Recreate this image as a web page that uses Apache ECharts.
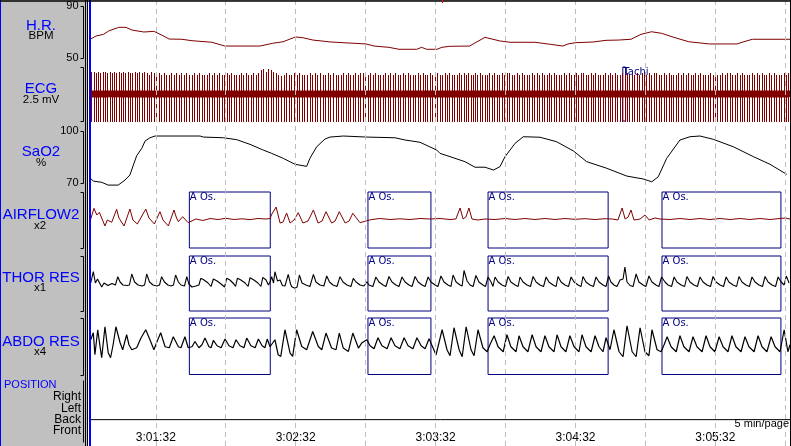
<!DOCTYPE html>
<html><head><meta charset="utf-8">
<script src="https://cdn.jsdelivr.net/npm/echarts@6/dist/echarts.min.js"></script>
<style>html,body{margin:0;padding:0;background:#fff}#c{width:791px;height:446px}</style>
</head><body><div id="c"></div>
<script>
// ---------------- DATA (seconds from page start 3:01:04) ----------------
const pageSec = 300;
const gridSec = [28, 58, 88, 118, 148, 178, 208, 238, 268, 298];
const timeLabelSec = [28, 88, 148, 208, 268];
const timeLabels = ['3:01:32', '3:02:32', '3:03:32', '3:04:32', '3:05:32'];

const hrSec = [0,2.4,5.6,7.8,12.1,15.2,17.8,22.9,27.2,30.5,33.7,39.2,43.5,52.1,57.6,72.7,78.1,82.6,87.9,91.1,95.4,103.1,118.2,121.6,128.0,132.3,139.9,142.0,144.2,148.6,150.7,154.0,162.6,165.8,169.2,172.2,175.6,179.9,190.6,197.3,202.6,204.8,208.2,215.5,221.1,226.5,231.8,236.1,240.6,244.9,250.2,256.6,265.5,277.3,280.7,283.9,300];
const hrBpm = [64.6,66.9,68.2,70.8,73.6,73.6,71.5,70.0,70.5,67.7,64.6,64.4,63.3,62.1,59.2,59.2,61.3,62.5,66.2,65.6,63.8,62.3,60.8,59.2,58.2,56.7,56.7,58.2,56.7,56.7,58.2,59.0,59.2,62.5,65.9,64.6,63.1,62.1,62.1,60.5,59.2,60.8,61.8,62.3,63.6,63.8,64.4,68.2,70.2,69.0,65.9,62.5,60.8,60.8,62.8,64.4,64.4];

const sao2Sec = [0,1.2,4.8,7.6,11.9,14.8,16.9,18.4,19.8,22.0,23.4,25.5,27.7,47.0,48.4,57.0,62.7,68.4,74.1,77.7,82.7,87.7,92.7,94.1,97.0,100.6,102.7,108.4,118.5,130.6,134.9,141.3,148.5,149.9,154.2,160.6,164.9,169.2,172.8,175.6,177.8,182.1,185.6,192.8,199.9,207.1,212.8,221.4,230.0,237.1,240.7,243.5,247.1,252.8,257.1,261.4,267.1,275.7,284.3,291.4,298.6];
const sao2Pct = [72.7,71.1,70.4,68.8,68.8,71.7,74.6,80.4,85.7,90.0,94.2,96.1,97.1,97.1,96.5,96.1,95.0,92.3,89.0,87.1,84.2,80.8,79.6,84.2,90.9,95.4,96.5,97.1,96.5,96.1,94.8,93.5,89.0,87.1,85.2,82.3,79.1,79.1,77.5,79.4,85.2,92.9,96.7,96.4,93.8,88.5,82.3,78.5,74.0,72.3,70.7,73.6,84.2,94.8,96.7,97.1,95.2,90.9,85.2,80.8,75.0];

// ECG: spike-to-spike intervals (centiseconds) and spike top level codes
const ecgFirstBeatSec = 0.3;
const ecgRRcs = [
100,100,99,99,98,98,98,97,97,97, 97,97,97,98,98,98,99,99,100,100, 101,102,103,104,104,105,105,106,106,106,
107,107,107,108,108,108,108,108,108,109, 109,109,109,109,109,109,109,109,108,108, 108,107,106,105,104,103,102,102,102,103,
104,104,105,105,106,106,106,107,107,107, 107,108,108,108,109,109,110,110,110,111, 111,111,111,112,112,112,112,112,112,112,
112,112,112,112,112,111,111,110,110,109, 108,107,106,104,103,103,104,105,106,106, 107,107,107,107,107,107,107,107,107,108,
108,108,108,108,108,108,107,107,107,106, 106,106,106,106,105,105,105,105,105,105, 104,104,104,103,103,103,102,102,101,101,
100,100,99,99,99,100,100,101,101,102, 103,104,105,106,106,107,107,107,107,107, 107,107,107,107,107,107,107,107,107,107,
106,106,106,106,106,105,105,105,105,105, 105,105,105,105,105,105,105,105,105,105, 105,105,104,104,104,104,104,104,104,104,
104,104,104,104,104,104,104,104,104,104, 104,104,105,105,105,105,105,105,105,105, 105,105,105,105,105,105,105,105,105,105,
105,105,105,105,105,105,105,105,105,105, 105,105,105,105,105,105,105,105,105,105, 105,105,105,105,105,105,105,105,105,105,
105,105,105,105,105,105,105,105,105,105, 105,105,105,105,105,105,105,105,105,105, 105,105,105,105,105,105,105,105,105,105];
const ecgTopCode =
"7767677676"+"7676767667"+"6767657676"+"5655656565"+"6556565556"+"5656556565"+
"5565655656"+"8979876545"+"6556565556"+"5656556565"+"5565655656"+"6556565556"+
"5656556565"+"5565655656"+"6556565556"+"5656556565"+"5565655656"+"6556565556"+
"5656556565"+"5565655656"+"6556565556"+"5656556565"+"5565655656"+"6556565556"+
"5656556565"+"5565655656"+"6556565556"+"5656556565"+"5565655656"+"6556565556";
const ecgTopLevelsMv = [0.55,0.62,0.69,0.76,0.83,0.90,0.97,1.04,1.11,1.18];
const ecgBottomMv = -1.30;
const ecgBaseMv = -0.04;
const ecgQdipMv = -0.14;
const ecgTwaveMv = 0.16;

// respiratory channels: [sec, value] (value in display units, 0 = channel centre, up positive)
const airflow = [[0.1,1],[1.5,11.7],[2.7,5],[3.8,7.7],[6.2,-6],[7.2,0],[9.1,-2.3],[11.2,10.7],[12.2,2],[14.4,-6],[16.9,11],[18.2,0],[20.1,-4],[23.7,11],[25.1,2],[27.4,-4],[29.8,8.3],[31.1,0],[33.4,-6],[35.8,10],[36.9,2],[37.7,-1.7],[39.5,3.3],[41.9,-2.7],[42.7,-1.7],[45.2,1],[48.2,-0.5],[51.3,1.5],[54.7,0.5],[58.1,1.7],[61.5,0.5],[65.0,1.2],[68.4,0.4],[71.8,1.5],[75.3,1],[77.0,1.5],[77.8,6],[79.6,13],[81.3,-3],[82.6,-2],[84.1,7],[85.6,-3],[87.3,0],[89.1,7.3],[91.1,-3],[93.3,-1],[95.6,10],[97.6,-3],[99.3,-1],[101.0,8.3],[103.4,-3],[104.9,-1],[106.7,8.3],[109.2,-3],[110.9,-1],[112.5,6.7],[115.6,-2.7],[118.5,-0.7],[120.7,0.5],[124.2,1.5],[128.5,0.5],[132.7,1.2],[137.0,0.5],[141.3,1.5],[145.6,1],[149.9,1.5],[154.2,0.5],[156.7,1],[158.5,12],[159.8,1],[161.0,3],[162.3,12],[163.6,1],[166.2,0],[169.2,1],[173.5,0.5],[177.8,1.5],[182.1,0.5],[186.3,1.5],[190.6,0.5],[194.9,1.5],[199.2,0.5],[203.5,1.5],[207.8,0.7],[212.1,1.3],[216.4,0.5],[220.7,1.3],[223.7,1],[226.2,0],[228.0,12],[229.3,1],[230.6,3],[231.8,10],[233.1,0],[235.7,1],[237.8,5],[239.6,0],[242.1,2],[244.2,1],[248.5,0.5],[252.8,1.5],[257.1,0.5],[261.4,1.5],[265.7,0.5],[270.0,1.5],[274.3,0.5],[278.6,1.5],[282.8,0.5],[287.1,1.5],[291.4,0.5],[295.7,1.5],[297.9,2],[300,1]];

const thor = [[0.1,0.5],[1.2,11.8],[2.1,0.5],[3.0,4.5],[3.8,6.5],[4.8,-3.5],[5.8,0.5],[7.5,-2],[9.2,0],[10.7,-1.5],[11.7,6.8],[12.7,1.5],[13.9,-1.5],[15.7,-2],[16.7,-1.5],[17.7,9.5],[18.9,1.5],[20.4,-1.5],[22.1,-2.5],[23.2,-1.5],[24.1,9.5],[25.3,1.5],[26.8,-1.5],[28.5,-2.5],[29.6,-1.5],[30.5,6.8],[31.7,1.5],[33.2,-1.5],[34.5,-2.5],[35.6,-1.5],[36.5,8.5],[37.7,1.5],[38.8,-1.5],[40.3,-2.5],[41.3,6.8],[42.2,-0.5],
[43.5,-3.5],[45.2,-2.5],[46.5,-1.5],[47.3,5.2],[48.7,3.5],[50.4,0.5],[51.7,-3],[52.7,4.5],[54.3,2.5],[56.0,-0.5],[57.5,-3.5],[58.4,5.2],[59.8,3.5],[61.5,-0.5],[62.2,-3],[63.0,5.2],[64.5,3.5],[66.3,0.5],[67.6,-3],[68.4,5.8],[70.1,3.5],[71.8,0.5],[73.1,-3],[73.9,6.2],[75.3,3.5],[76.3,-1.5],[77.0,1.5],
[77.7,6.8],[78.5,0.5],[79.1,11.8],[80.2,2.5],[81.3,3.5],[82.3,-2],[83.4,-2.5],[84.8,9.2],[85.8,-0.5],[86.3,-3.2],[87.7,-4.8],[88.6,-3.5],[89.6,8.5],[90.7,0.5],[92.4,-1.5],[94.1,-3],[95.6,9.2],[96.7,1.5],[98.4,-1.5],[100.1,-2.5],[101.3,7.5],[102.5,1.5],[104.0,-1.5],[105.7,-3],[107.0,6.8],[108.3,1.5],[110.0,-1.5],[111.7,-3],[112.7,5.2],[113.9,1.5],[115.6,-1.5],[117.3,-2.5],[118.5,1.8],
[119.4,-1.5],[121.1,-3],[122.4,6.5],[123.7,1.5],[125.5,-1.5],[126.7,-3],[128.0,7],[129.3,1.5],[131.0,-1.5],[132.3,-3],[133.6,6.5],[134.9,1.5],[136.6,-1.5],[137.9,-3],[139.2,7],[140.5,1.5],[142.2,-1.5],[143.5,-3],[144.8,6.5],[146.0,1.5],
[147.8,-1.5],[149.0,-3],[150.3,7.5],[151.6,1.5],[153.3,-1.5],[154.6,-3],[155.5,8.5],[156.8,1.5],[158.5,-1.5],[159.4,-2.5],[160.2,13],[161.5,2.5],[162.8,-1.5],[164.1,-3],[165.3,8],[166.6,1.5],[168.3,-1.5],[169.4,-3],[170.5,6.5],
[171.8,1.5],[172.6,-3],[173.5,6.5],[174.8,1.5],[176.5,-1.5],[178.0,-3],[179.1,7],[180.3,1.5],[182.1,-1.5],[183.4,-3],[184.2,6.5],[185.5,1.5],[187.2,-1.5],[188.7,-3],[189.8,7],[191.1,1.5],[192.8,-1.5],[194.3,-3],[195.4,6.5],[196.6,1.5],[198.4,-1.5],[199.7,-3],[200.5,7],[201.8,1.5],[203.5,-1.5],[205.0,-3],[206.1,6.5],[207.4,1.5],[209.1,-1.5],[210.4,-3],[211.2,7],[212.5,1.5],[214.2,-1.5],[215.7,-3],[216.8,6.5],[218.1,1.5],[219.8,-1.5],[221.1,-3],
[222.2,7.5],[223.2,1.5],[224.5,-1.5],[225.8,-3],[227.1,3.5],[228.4,4.5],[229.2,16.5],[230.1,1.5],[231.4,-2],[232.7,-3],[234.0,9.5],[235.2,1.5],[237.0,-1.5],[238.2,-3],[239.5,7.5],[240.8,1.5],[242.5,-1.5],[243.8,-3],[244.9,6.5],
[246.4,1.5],[247.7,-1.5],[249.2,-3],[250.3,6.5],[251.5,1.5],[253.3,-1.5],[254.8,-3],[255.8,7],[257.1,1.5],[258.8,-1.5],[260.3,-3],[261.4,6.5],[262.7,1.5],[264.4,-1.5],[265.9,-3],[267.0,7],[268.3,1.5],[270.0,-1.5],[271.5,-3],[272.6,6.5],[273.8,1.5],[275.6,-1.5],[277.1,-3],[278.1,7],[279.4,1.5],[281.1,-1.5],[282.6,-3],[283.7,6.5],[285.0,1.5],[286.7,-1.5],[288.2,-3],[289.3,7],[290.6,1.5],[292.3,-1.5],[293.8,-3],[294.9,6.5],[296.2,1.5],[297.5,-1.5],[298.4,7.5],[299.6,0.5]];

const abdo = [[0.1,6.5],[1.2,13.5],[1.9,-8.5],[3.1,16.5],[4.1,-0.5],[4.8,-11.5],[6.2,19.5],[7.6,-6.5],[8.6,-11.5],[9.7,1.5],[10.9,19.5],[12.7,3.5],[13.8,-3.5],[15.5,11.5],[16.5,1.5],[17.7,-3.5],[19.8,-1.5],[21.7,8.5],[23.7,16.5],[25.5,6.5],[27.2,-3.5],[28.5,4.5],[30.1,13.5],[32.0,-0.5],[33.8,-1.5],[35.5,9.5],[37.7,-0.5],[38.8,-1.5],[40.5,9.5],[41.9,-1.5],
[43.5,-0.5],[44.8,4.8],[46.5,-1.5],[47.8,1.5],[49.1,8.2],[50.8,-0.5],[51.7,-1.5],[52.7,5.8],[54.3,0.5],[56.0,-1.5],[57.7,7.2],[59.4,0.5],[61.1,-1.5],[62.4,6.5],[64.1,0.5],[65.8,-1.5],[67.0,8.2],[68.8,0.5],[70.6,-1.5],[72.0,7.2],[73.6,0.5],[74.8,-1.5],[75.8,7.2],[77.0,-0.5],
[77.7,-1.8],[79.1,6.5],[80.5,-8.5],[81.6,-10.2],[83.4,16.5],[85.6,-6.8],[86.7,-10.2],[88.4,16.5],[90.6,-0.2],[92.7,-3.5],[95.3,14.8],[97.7,-0.2],[99.2,-3.5],[101.0,13.2],[103.4,-1.8],[105.3,-3.5],[106.7,13.2],[108.4,-1.8],[110.6,-5.2],[112.5,13.2],[114.9,-1.8],[116.3,3.2],[118.5,6.5],
[119.9,0.5],[121.6,-2.5],[123.3,8.5],[125.0,0.5],[127.2,-2.5],[128.9,8.5],[130.6,0.5],[132.7,-2.5],[134.5,8.5],[136.2,0.5],[138.3,-2.5],[140.0,8.5],[141.8,0.5],[143.5,-2.5],[145.2,7.5],[146.5,0.5],
[148.2,-8.5],[150.8,16.5],[152.9,-3.5],[154.2,-9.5],[155.9,18.5],[158.1,-3.5],[159.4,-10.5],[161.1,19.5],[163.2,-3.5],[164.5,-9.5],[166.2,16.5],[168.3,-1.5],[170.1,-5.5],
[171.3,1.5],[173.1,10.5],[174.8,-0.5],[177.0,-5.5],[178.6,11.5],[180.3,-0.5],[182.5,-5.5],[183.8,10.5],[185.5,-0.5],[187.6,-5.5],[189.4,11.5],[191.1,-0.5],[193.2,-5.5],[194.9,10.5],[196.6,-0.5],[198.8,-5.5],[200.1,11.5],[201.8,-0.5],[203.9,-5.5],[205.6,10.5],[207.4,-0.5],[209.5,-5.5],[210.8,11.5],[212.5,-0.5],[214.7,-5.5],[216.4,10.5],[218.1,-0.5],[219.8,-5.5],[221.1,8.5],
[222.8,-3.5],[224.5,16.5],[226.7,-5.5],[228.4,-10.5],[230.1,20.5],[232.3,-5.5],[234.0,-10.5],[235.7,18.5],[237.8,-5.5],[239.5,-9.5],[240.8,16.5],[243.0,-3.5],[244.7,-5.5],
[246.0,1.5],[247.3,9.5],[249.0,-0.5],[251.2,-5.5],[252.8,10.5],[254.5,-0.5],[256.7,-5.5],[258.4,9.5],[260.1,-0.5],[262.3,-5.5],[264.0,10.5],[265.7,-0.5],[267.8,-5.5],[269.6,9.5],[271.3,-0.5],[273.4,-5.5],[275.1,10.5],[276.8,-0.5],[279.0,-5.5],[280.7,9.5],[282.4,-0.5],[284.6,-5.5],[286.3,10.5],[288.0,-0.5],[290.1,-5.5],[291.9,9.5],[293.6,-0.5],[295.7,-5.5],[297.5,16.5],[299.1,-5.5],[300,1.5]];

const positionNames = ['Front', 'Back', 'Left', 'Right'];
const positionSec = [0, 300];
const positionLevel = [1, 1];

const apneaSec = [[42.4, 77.1], [119.0, 146.0], [170.5, 222.0], [245.1, 296.1]];
const apneaLabel = 'A Os.';
const tachiSec = [228.3, 229.5];
const tachiLabel = 'Tachi';

// channel scale ranges [min, max]
const hrRange = [50, 90], ecgRange = [-1.25, 1.25], sao2Range = [70, 100];
const airRange = [-28, 28], thorRange = [-27.5, 27.5], abdoRange = [-28.25, 28.25], posRange = [-1, 4.5];

// ---------------- BUILD ----------------
const FONT = '"Liberation Sans", Arial, Helvetica, sans-serif';
const ecgBeats = [];      // [sec, topMv, bottomMv]
const ecgBaseline = [];   // [sec, mV]
{
  let s = ecgFirstBeatSec;
  for (let i = 0; i < ecgRRcs.length; i++) {
    if (s > pageSec - 0.4) break;
    const code = +(ecgTopCode[i] || 5);
    ecgBeats.push([s, ecgTopLevelsMv[code], ecgBottomMv]);
    ecgBaseline.push([s, ecgBaseMv], [s + 0.08, ecgQdipMv], [s + 0.3, ecgTwaveMv], [s + 0.55, ecgBaseMv]);
    s += ecgRRcs[i] / 100;
  }
}

const rows = [
  {top: 1, bottom: -3, show: true, backgroundColor: '#ffffff', borderWidth: 0},  // 0 plot background / gridlines
  {top: 6, height: 52},        // 1 H.R.
  {top: 67, height: 54},       // 2 ECG
  {top: 131, height: 52},      // 3 SaO2
  {top: 192, height: 56},      // 4 AIRFLOW2
  {top: 256, height: 55},      // 5 THOR RES
  {top: 318, height: 56.5},    // 6 ABDO RES
  {top: 380, height: 62.3},    // 7 POSITION
  {top: 2, bottom: 15}         // 8 time labels
];
const grid = rows.map(r => Object.assign({left: 90.5, right: 1, containLabel: false}, r));

const xAxis = rows.map((r, i) => ({
  type: 'value', gridIndex: i, min: 0, max: pageSec, show: i === 8,
  axisLine: {show: false}, axisTick: {show: false}, splitLine: {show: false},
  axisLabel: i === 8 ? {
    show: true, customValues: timeLabelSec, margin: 1,
    formatter: v => { const k = timeLabelSec.indexOf(Math.round(v)); return k >= 0 ? timeLabels[k] : ''; },
    fontSize: 12, color: '#000', fontFamily: FONT
  } : {show: false}
}));

function chanAxis(gi, range, showLabel) {
  return {
    type: 'value', gridIndex: gi, min: range[0], max: range[1], interval: range[1] - range[0],
    position: 'left', offset: 8,
    axisLine: {show: false}, axisTick: {show: false}, splitLine: {show: false},
    axisLabel: {show: showLabel, margin: 4, fontSize: 11, color: '#000', fontFamily: FONT}
  };
}
const hidden = gi => ({type: 'value', gridIndex: gi, min: 0, max: 1, show: false});
const yAxis = [
  hidden(0),
  chanAxis(1, hrRange, true),
  chanAxis(2, ecgRange, false),
  chanAxis(3, sao2Range, true),
  chanAxis(4, airRange, false),
  chanAxis(5, thorRange, false),
  chanAxis(6, abdoRange, false),
  {
    type: 'value', gridIndex: 7, min: posRange[0], max: posRange[1], interval: 1, position: 'left', offset: 7.5,
    axisLine: {show: false}, axisTick: {show: false}, splitLine: {show: false},
    axisLabel: {show: true, margin: 2, fontSize: 12, color: '#000', fontFamily: FONT,
      formatter: v => { const k = Math.round(v); return (Math.abs(v - k) < 1e-6 && positionNames[k]) ? positionNames[k] : ''; }}
  },
  hidden(8)
];

const boxStyle = {color: 'rgba(0,0,0,0)', borderColor: '#000080', borderWidth: 1};
const boxLabel = {show: true, position: 'insideTopLeft', distance: 1, color: '#000080', fontSize: 10, fontFamily: '"DejaVu Sans", sans-serif', formatter: '{b}'};
function eventArea(events, name) {
  return {silent: true, itemStyle: boxStyle, label: boxLabel, emphasis: {disabled: true},
    data: events.map(e => [{name: name, xAxis: e[0]}, {xAxis: e[1]}])};
}
const L = {type: 'line', symbol: 'none', showSymbol: false, clip: false, silent: true, z: 3, animation: false};

const series = [
  Object.assign({}, L, {xAxisIndex: 0, yAxisIndex: 0, data: [[0, 0.5]], lineStyle: {width: 0, opacity: 0}, z: 1,
    markLine: {silent: true, animation: false, symbol: ['none', 'none'], label: {show: false},
      lineStyle: {color: '#bdbdbd', width: 1, type: [5, 4]}, emphasis: {disabled: true},
      data: gridSec.map(s => ({xAxis: s}))}}),
  Object.assign({}, L, {xAxisIndex: 1, yAxisIndex: 1, data: hrSec.map((s, i) => [s, hrBpm[i]]), lineStyle: {color: '#800000', width: 1}}),
  Object.assign({}, L, {xAxisIndex: 2, yAxisIndex: 2, data: ecgBaseline, lineStyle: {color: '#800000', width: 2.5},
    markArea: eventArea([tachiSec], tachiLabel)}),
  {type: 'custom', xAxisIndex: 2, yAxisIndex: 2, data: ecgBeats, silent: true, clip: false, z: 3, animation: false,
    encode: {x: 0, y: [1, 2]},
    renderItem: (params, api) => {
      const s = api.value(0);
      const p1 = api.coord([s, api.value(1)]);
      const p2 = api.coord([s, api.value(2)]);
      const x = Math.round(p1[0]) + 0.5;
      return {type: 'line', shape: {x1: x, y1: Math.round(p1[1]), x2: x, y2: Math.round(p2[1])},
        style: {stroke: '#800000', lineWidth: 1}};
    }},
  Object.assign({}, L, {xAxisIndex: 3, yAxisIndex: 3, data: sao2Sec.map((s, i) => [s, sao2Pct[i]]), lineStyle: {color: '#000', width: 1}}),
  Object.assign({}, L, {xAxisIndex: 4, yAxisIndex: 4, data: airflow, lineStyle: {color: '#800000', width: 1}, markArea: eventArea(apneaSec, apneaLabel)}),
  Object.assign({}, L, {xAxisIndex: 5, yAxisIndex: 5, data: thor, lineStyle: {color: '#000', width: 1.1}, markArea: eventArea(apneaSec, apneaLabel)}),
  Object.assign({}, L, {xAxisIndex: 6, yAxisIndex: 6, data: abdo, lineStyle: {color: '#000', width: 1.2}, markArea: eventArea(apneaSec, apneaLabel)}),
  Object.assign({}, L, {xAxisIndex: 7, yAxisIndex: 7, data: positionSec.map((s, i) => [s, positionLevel[i]]), lineStyle: {color: '#000', width: 1}})
];

function txt(x, y, s, size, color, align) {
  return {type: 'text', x: x, y: y, z: 20, silent: true,
    style: {text: s, fill: color, font: size + 'px ' + FONT, textAlign: align || 'center', textVerticalAlign: 'middle'}};
}
const BLUE = '#0000ff';
const graphic = [
  {type: 'line', z: 30, silent: true, shape: {x1: 0.5, y1: 0, x2: 0.5, y2: 446}, style: {stroke: BLUE, lineWidth: 1}},
  {type: 'line', z: 30, silent: true, shape: {x1: 85.5, y1: 0, x2: 85.5, y2: 446}, style: {stroke: '#000', lineWidth: 1}},
  {type: 'line', z: 30, silent: true, shape: {x1: 87.5, y1: 0, x2: 87.5, y2: 446}, style: {stroke: '#000', lineWidth: 1}},
  {type: 'rect', z: 30, silent: true, shape: {x: 88, y: 0, width: 1, height: 446}, style: {fill: '#fff'}},
  {type: 'rect', z: 30, silent: true, shape: {x: 89, y: 0, width: 2, height: 446}, style: {fill: BLUE}},
  {type: 'line', z: 30, silent: true, shape: {x1: 0, y1: 1, x2: 791, y2: 1}, style: {stroke: '#000', lineWidth: 1.5}},
  {type: 'line', z: 30, silent: true, shape: {x1: 790.5, y1: 0, x2: 790.5, y2: 446}, style: {stroke: '#000', lineWidth: 1}},
  {type: 'line', z: 31, silent: true, shape: {x1: 442.5, y1: 0, x2: 442.5, y2: 3}, style: {stroke: '#ff0000', lineWidth: 1}},
  txt(41, 26, 'H.R.', 15, BLUE), txt(41, 35.5, 'BPM', 11.5, '#000'),
  txt(41, 89, 'ECG', 15, BLUE), txt(41, 99.5, '2.5 mV', 11.5, '#000'),
  txt(41, 152, 'SaO2', 15, BLUE), txt(41, 162.5, '%', 11.5, '#000'),
  txt(41, 214.5, 'AIRFLOW2', 15, BLUE), txt(40, 225.5, 'x2', 11.5, '#000'),
  txt(41, 278, 'THOR RES', 15, BLUE), txt(40, 288, 'x1', 11.5, '#000'),
  txt(41, 341.5, 'ABDO RES', 15, BLUE), txt(40, 352, 'x4', 11.5, '#000'),
  txt(4, 384.5, 'POSITION', 11, BLUE, 'left'),
  txt(789, 423.5, '5 min/page', 11, '#000', 'right')
];

const chart = echarts.init(document.getElementById('c'), null, {renderer: 'canvas', width: 791, height: 446});
chart.setOption({animation: false, backgroundColor: '#c0c0c0', grid, xAxis, yAxis, series, graphic});

// scale brackets ("]") beside each channel, positioned from each channel's own axis scale
const bracketDefs = [[1, hrRange, 3, 8], [2, ecgRange, 3, 8], [3, sao2Range, 3, 8], [4, airRange, 3, 8],
                     [5, thorRange, 3, 8], [6, abdoRange, 3, 8], [7, posRange, 0, 7.5]];
const brackets = bracketDefs.map(([gi, r, tick, gap]) => {
  const a = chart.convertToPixel({gridIndex: gi}, [0, r[0]]);
  const b = chart.convertToPixel({gridIndex: gi}, [0, r[1]]);
  const x = Math.round(a[0] - gap) + 0.5;
  const yTop = Math.round(b[1]) + 0.5, yBot = Math.round(a[1]) + 0.5;
  return {type: 'polyline', z: 40, silent: true,
    shape: {points: [[x - tick, yTop], [x, yTop], [x, yBot], [x - tick, yBot]]},
    style: {stroke: '#000', lineWidth: 1, fill: 'none'}};
});
chart.setOption({graphic: graphic.concat(brackets)});
</script></body></html>
